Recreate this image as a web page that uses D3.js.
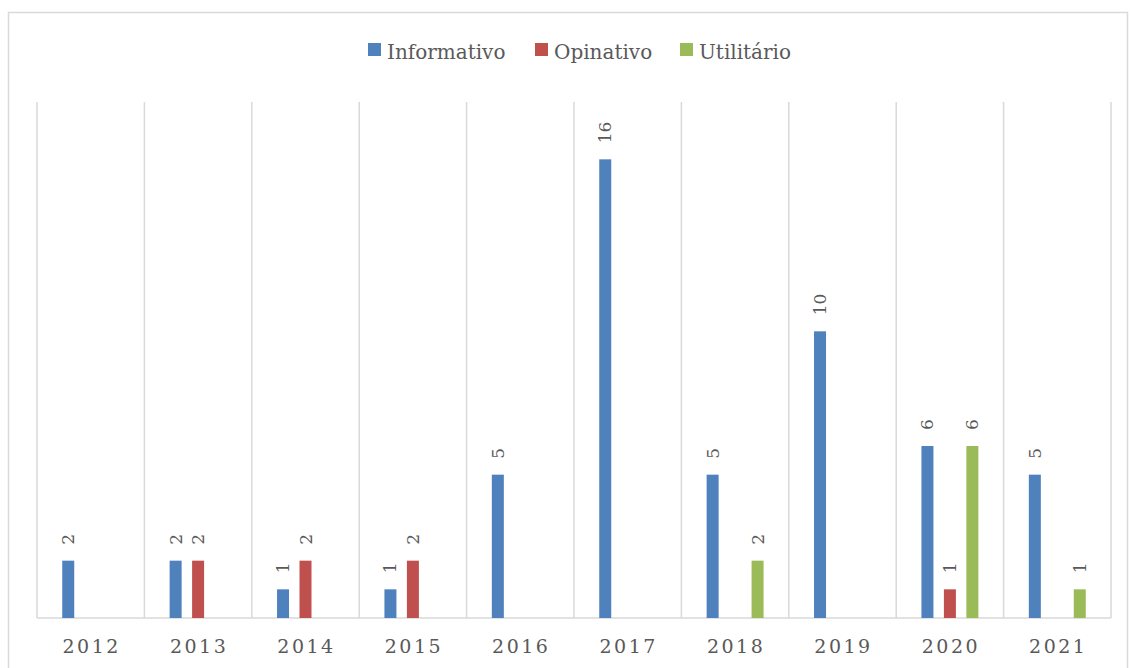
<!DOCTYPE html>
<html>
<head>
<meta charset="utf-8">
<script src="https://cdn.jsdelivr.net/npm/d3@7"></script>
<style>
  body { margin: 0; background: #fff; }
  svg { display: block; }
</style>
</head>
<body>
<svg id="chart" width="1130" height="668"></svg>
<script>
// categories and series
const years = ["2012", "2013", "2014", "2015", "2016", "2017", "2018", "2019", "2020", "2021"];
const seriesNames = ["Informativo", "Opinativo", "Utilitário"];
const seriesColors = ["#4f81bd", "#c0504d", "#9bbb59"];
const informativo = [2, 2, 1, 1, 5, 16, 5, 10, 6, 5];
const opinativo = [0, 2, 2, 2, 0, 0, 0, 0, 1, 0];
const utilitario = [0, 0, 0, 0, 0, 0, 2, 0, 6, 1];
const yMax = 18;

const seriesValues = [informativo, opinativo, utilitario];
const data = years.map((yr, i) => ({
  year: yr,
  values: seriesNames.map((s, j) => ({ key: s, value: seriesValues[j][i], color: seriesColors[j] }))
}));

const width = 1130, height = 668;
const margin = { top: 102, right: 18, bottom: 50, left: 37 };
const font = "DejaVu Serif, serif";

const svg = d3.select("#chart");

// outer chart border
svg.append("rect")
  .attr("x", 8.5).attr("y", 12.5)
  .attr("width", width - 11).attr("height", height)
  .attr("fill", "none")
  .attr("stroke", "#d9d9d9")
  .attr("stroke-width", 1.5);

const g = svg.append("g").attr("transform", `translate(${margin.left}, ${margin.top})`);
const innerW = width - margin.left - margin.right - 1;
const innerH = 618 - margin.top;

const x = d3.scaleBand().domain(years).range([0, innerW]);
const x1 = d3.scaleBand().domain(seriesNames).range([20, x.bandwidth() - 20]);
const y = d3.scaleLinear().domain([0, yMax]).range([innerH, 0]);

// vertical category separators
g.selectAll(".sep")
  .data(years.concat(["end"]))
  .enter()
  .append("line")
  .attr("class", "sep")
  .attr("x1", (d, i) => i * x.step())
  .attr("x2", (d, i) => i * x.step())
  .attr("y1", 0)
  .attr("y2", innerH)
  .style("stroke", "#d9d9d9")
  .style("stroke-width", 1.5);

// baseline
g.append("line")
  .attr("x1", 0).attr("x2", innerW)
  .attr("y1", innerH).attr("y2", innerH)
  .style("stroke", "#d9d9d9")
  .style("stroke-width", 1.5);

const groups = g.selectAll(".grp")
  .data(data)
  .enter()
  .append("g")
  .attr("class", "grp")
  .attr("transform", (d) => `translate(${x(d.year)}, 0)`);

const barW = 12;
const items = (d) => d.values.filter((v) => v.value > 0);

groups.selectAll("rect")
  .data(items)
  .enter()
  .append("rect")
  .attr("x", (d) => x1(d.key) + x1.bandwidth() / 2 - barW / 2)
  .attr("y", (d) => y(d.value))
  .attr("width", barW)
  .attr("height", (d) => innerH - y(d.value))
  .attr("fill", (d) => d.color);

// rotated value labels
groups.selectAll("text")
  .data(items)
  .enter()
  .append("text")
  .attr("transform", (d) => `translate(${x1(d.key) + x1.bandwidth() / 2 + 6}, ${y(d.value) - 16}) rotate(-90)`)
  .attr("text-anchor", "start")
  .style("font-family", font)
  .style("font-size", "17px")
  .style("fill", "#595959")
  .text((d) => d.value);

// x axis labels
g.selectAll(".xlab")
  .data(years)
  .enter()
  .append("text")
  .attr("class", "xlab")
  .attr("x", (d) => x(d) + x.bandwidth() / 2 + 1)
  .attr("y", innerH + 35)
  .attr("text-anchor", "middle")
  .style("font-family", font)
  .style("font-size", "19px")
  .style("letter-spacing", "2.5px")
  .style("fill", "#595959")
  .text((d) => d);

// legend
const legend = svg.append("g").attr("transform", "translate(368, 43)");
const legX = [0, 167, 312];
seriesNames.forEach((s, i) => {
  const lg = legend.append("g").attr("transform", `translate(${legX[i]}, 0)`);
  lg.append("rect").attr("width", 13).attr("height", 13).attr("fill", seriesColors[i]);
  lg.append("text")
    .attr("x", 19).attr("y", 16)
    .style("font-family", font)
    .style("font-size", "20px")
    .style("fill", "#595959")
    .text(s);
});
</script>
</body>
</html>
